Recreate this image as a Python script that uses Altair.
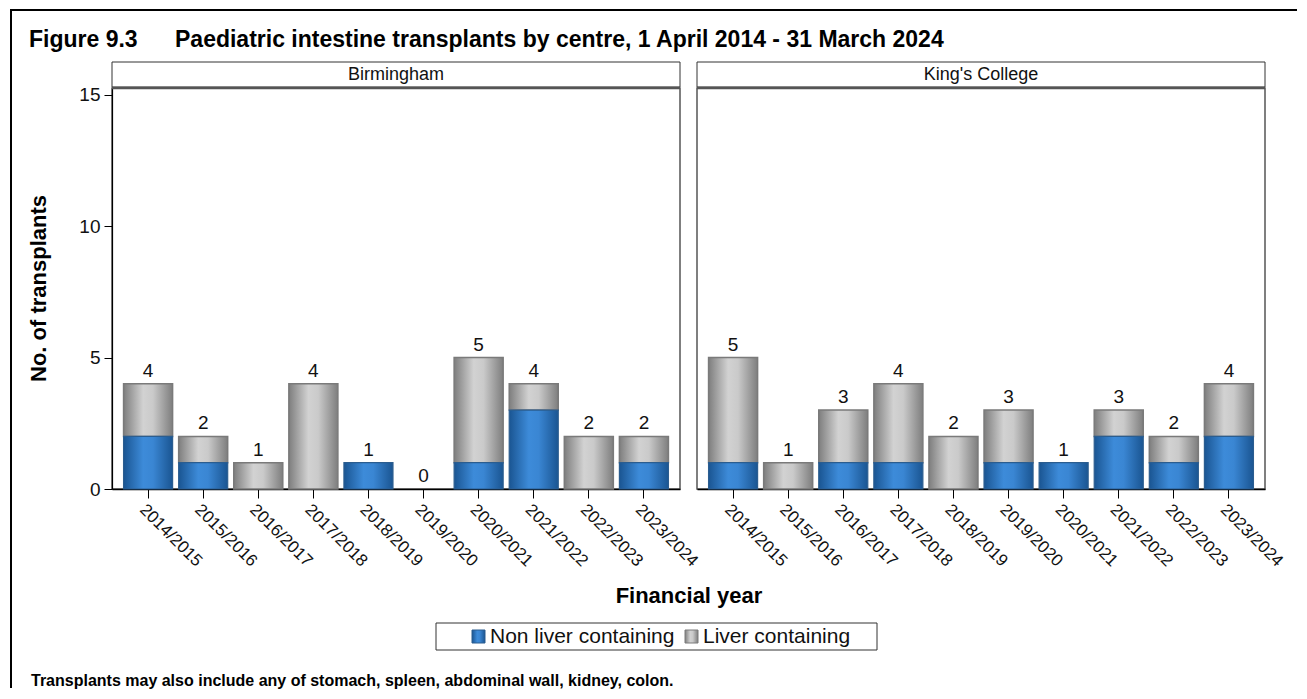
import altair as alt
import pandas as pd

# ---------------- data ----------------
years = ["2014/2015", "2015/2016", "2016/2017", "2017/2018", "2018/2019",
         "2019/2020", "2020/2021", "2021/2022", "2022/2023", "2023/2024"]
centres = ["Birmingham", "King's College"]
birmingham_non = [2, 1, 0, 0, 1, 0, 1, 3, 0, 1]
birmingham_liver = [2, 1, 1, 4, 0, 0, 4, 1, 2, 1]
kings_non = [1, 0, 1, 1, 0, 1, 1, 2, 1, 2]
kings_liver = [4, 1, 2, 3, 2, 2, 0, 1, 1, 2]
series_names = ["Non liver containing", "Liver containing"]

title_fig = "Figure 9.3"
title_text = "Paediatric intestine transplants by centre, 1 April 2014 - 31 March 2024"
x_title = "Financial year"
y_title = "No. of transplants"
footnote = "Transplants may also include any of stomach, spleen, abdominal wall, kidney, colon."

FONT = "Liberation Sans"
W, H = 568, 401

blue_grad = alt.Gradient(
    gradient="linear", x1=0, x2=1, y1=0, y2=0,
    stops=[alt.GradientStop(offset=0, color="#1a5592"),
           alt.GradientStop(offset=0.4, color="#3d8bd9"),
           alt.GradientStop(offset=0.6, color="#3a86d3"),
           alt.GradientStop(offset=1, color="#1a5592")])
grey_grad = alt.Gradient(
    gradient="linear", x1=0, x2=1, y1=0, y2=0,
    stops=[alt.GradientStop(offset=0, color="#7e7e7e"),
           alt.GradientStop(offset=0.4, color="#d2d2d2"),
           alt.GradientStop(offset=0.6, color="#cacaca"),
           alt.GradientStop(offset=1, color="#7e7e7e")])


def one(**kw):
    return pd.DataFrame({k: [v] for k, v in kw.items()})


def panel(centre, non, liver, first):
    df = pd.DataFrame({"year": years, "non": non, "liver": liver})
    base = alt.Chart(df).transform_calculate(total="datum.non + datum.liver")
    x = alt.X("year:N", sort=years, title=None,
              scale=alt.Scale(paddingInner=0.11, paddingOuter=0.21),
              axis=alt.Axis(labelAngle=45, labelAlign="left", labelBaseline="top",
                            labelFontSize=17, labelFont=FONT, labelColor="#111",
                            labelPadding=3, tickSize=9, tickColor="#000",
                            domainColor="#000", domainWidth=1.5, labelOverlap=False))
    yscale = alt.Scale(domain=[0, 15.25], nice=False)
    if first:
        yaxis = alt.Axis(values=[0, 5, 10, 15], tickSize=8, tickColor="#000",
                         domainColor="#000", domainWidth=1.2, labelFontSize=19,
                         labelFont=FONT, labelColor="#111", labelPadding=4,
                         grid=False, title=None)
    else:
        yaxis = None

    non_bars = base.transform_filter("datum.non > 0").mark_bar(
        fill=blue_grad, stroke="#2b5d8f", strokeWidth=1.2).encode(
        x=x, y=alt.Y("non:Q", scale=yscale, axis=yaxis))
    liver_bars = base.transform_filter("datum.liver > 0").mark_bar(
        fill=grey_grad, stroke="#7a7a7a", strokeWidth=1.5).encode(
        x=x, y=alt.Y("total:Q", scale=yscale, axis=yaxis), y2="non:Q")
    labels = base.mark_text(fontSize=19, font=FONT, color="#111", dy=-7,
                            baseline="alphabetic").encode(
        x=x, y=alt.Y("total:Q", scale=yscale, axis=yaxis), text="total:Q")

    hdr = alt.Chart(one(c=centre))
    head_box = hdr.mark_rect(fill="white", stroke="#333", strokeWidth=1).encode(
        x=alt.value(0), x2=alt.value(W), y=alt.value(-26), y2=alt.value(-1))
    head_line = hdr.mark_rule(color="#555", strokeWidth=2.5).encode(
        x=alt.value(0), x2=alt.value(W), y=alt.value(0))
    head_text = hdr.mark_text(fontSize=18, font=FONT, color="#111").encode(
        x=alt.value(W / 2), y=alt.value(-13), text="c:N")

    layers = [head_box, liver_bars, non_bars, labels, head_line, head_text]

    if first:
        frame_l = alt.Chart(one(a=1)).mark_rule(color="#000", strokeWidth=2).encode(
            x=alt.value(-101), y=alt.value(-78), y2=alt.value(600))
        frame_t = alt.Chart(one(a=1)).mark_rule(color="#000", strokeWidth=2).encode(
            x=alt.value(-102), x2=alt.value(1185), y=alt.value(-78))
        t1 = alt.Chart(one(t=title_fig)).mark_text(
            fontSize=23, fontWeight="bold", font=FONT, align="left",
            baseline="alphabetic", color="#000").encode(
            x=alt.value(-83), y=alt.value(-41), text="t:N")
        t2 = alt.Chart(one(t=title_text)).mark_text(
            fontSize=23, fontWeight="bold", font=FONT, align="left",
            baseline="alphabetic", color="#000").encode(
            x=alt.value(63), y=alt.value(-41), text="t:N")
        yt = alt.Chart(one(t=y_title)).mark_text(
            fontSize=22, fontWeight="bold", font=FONT, angle=270,
            align="center", baseline="middle", color="#000").encode(
            x=alt.value(-73), y=alt.value(H / 2), text="t:N")
        xt = alt.Chart(one(t=x_title)).mark_text(
            fontSize=22, fontWeight="bold", font=FONT,
            align="center", baseline="middle", color="#000").encode(
            x=alt.value(577), y=alt.value(508), text="t:N")
        fn = alt.Chart(one(t=footnote)).mark_text(
            fontSize=16, fontWeight="bold", font=FONT, align="left",
            baseline="alphabetic", color="#000").encode(
            x=alt.value(-81), y=alt.value(598), text="t:N")
        # legend
        lg_box = alt.Chart(one(a=1)).mark_rect(fill="white", stroke="#333",
                                               strokeWidth=1).encode(
            x=alt.value(324), x2=alt.value(765), y=alt.value(535), y2=alt.value(562))
        sw1 = alt.Chart(one(a=1)).mark_rect(fill=blue_grad, stroke="#2b5d8f",
                                            strokeWidth=1).encode(
            x=alt.value(360), x2=alt.value(373), y=alt.value(542), y2=alt.value(555))
        tx1 = alt.Chart(one(t=series_names[0])).mark_text(
            fontSize=21, font=FONT, align="left", baseline="middle",
            color="#111").encode(x=alt.value(378), y=alt.value(549), text="t:N")
        sw2 = alt.Chart(one(a=1)).mark_rect(fill=grey_grad, stroke="#7a7a7a",
                                            strokeWidth=1).encode(
            x=alt.value(573), x2=alt.value(586), y=alt.value(542), y2=alt.value(555))
        tx2 = alt.Chart(one(t=series_names[1])).mark_text(
            fontSize=21, font=FONT, align="left", baseline="middle",
            color="#111").encode(x=alt.value(591), y=alt.value(549), text="t:N")
        layers += [frame_l, frame_t, t1, t2, yt, xt, fn, lg_box, sw1, tx1, sw2, tx2]

    return alt.layer(*layers).properties(width=W, height=H)


left = panel(centres[0], birmingham_non, birmingham_liver, True)
right = panel(centres[1], kings_non, kings_liver, False)

chart = alt.hconcat(left, right, spacing=17, bounds="flush").properties(
    padding=0, background="white"
).configure_view(stroke="#555", strokeWidth=1.5)

chart.save("out.html", embed_options={"renderer": "svg", "actions": False})
